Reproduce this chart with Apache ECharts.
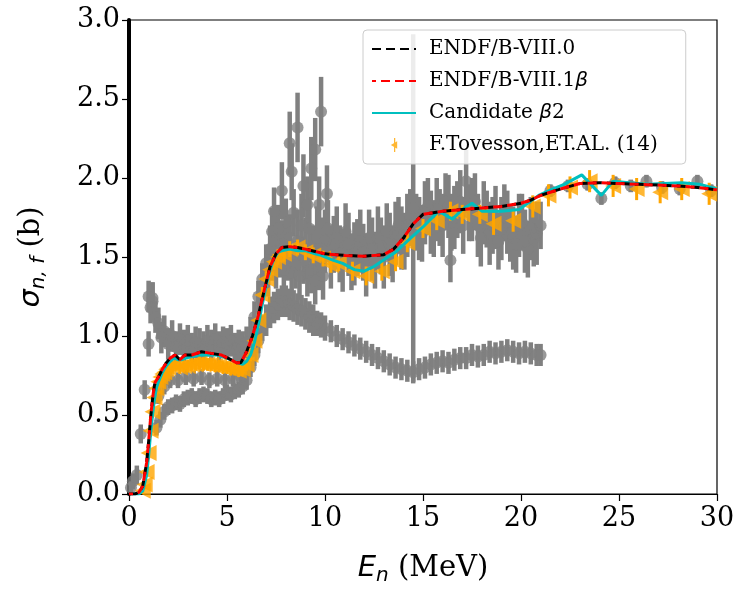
<!DOCTYPE html>
<html>
<head>
<meta charset="utf-8">
<script src="https://cdn.jsdelivr.net/npm/echarts@6/dist/echarts.min.js"></script>
<style>
  html, body { margin: 0; padding: 0; background: #fff; }
  #chart { width: 746px; height: 591px; }
</style>
</head>
<body>
<div id="chart"></div>
<script>
// evaluated curves (E in MeV, sigma in b)
const evalE = [0.0, 0.3, 0.5, 0.7, 0.9, 1.0, 1.1, 1.2, 1.3, 1.4, 1.5, 1.7, 1.9, 2.1, 2.35, 2.6, 2.85, 3.2, 3.7, 4.2, 4.7, 5.2, 5.5, 5.7, 6.0, 6.3, 6.6, 6.9, 7.2, 7.5, 7.8, 8.2, 8.6, 9.0, 9.5, 10.0, 11.0, 12.0, 13.0, 13.5, 14.0, 14.5, 15.0, 16.0, 17.0, 18.0, 19.0, 20.0, 20.5, 21.0, 22.0, 23.0, 24.0, 25.0, 26.0, 27.0, 28.0, 29.0, 30.0];
const endf80 = [0.0, 0.0, 0.01, 0.05, 0.2, 0.33, 0.48, 0.6, 0.69, 0.72, 0.74, 0.79, 0.83, 0.86, 0.88, 0.85, 0.88, 0.88, 0.9, 0.89, 0.88, 0.85, 0.83, 0.83, 0.9, 1.0, 1.13, 1.29, 1.44, 1.52, 1.56, 1.565, 1.56, 1.55, 1.535, 1.52, 1.51, 1.505, 1.515, 1.55, 1.62, 1.71, 1.77, 1.79, 1.8, 1.81, 1.82, 1.84, 1.86, 1.89, 1.93, 1.965, 1.97, 1.965, 1.96, 1.955, 1.95, 1.94, 1.925];
const endf81 = [0.0, 0.0, 0.01, 0.05, 0.2, 0.33, 0.48, 0.6, 0.7, 0.72, 0.74, 0.79, 0.83, 0.86, 0.88, 0.85, 0.88, 0.88, 0.9, 0.89, 0.88, 0.85, 0.83, 0.83, 0.9, 1.0, 1.13, 1.29, 1.44, 1.52, 1.56, 1.565, 1.56, 1.55, 1.535, 1.52, 1.51, 1.505, 1.515, 1.55, 1.62, 1.71, 1.77, 1.79, 1.8, 1.81, 1.82, 1.84, 1.86, 1.89, 1.93, 1.965, 1.97, 1.965, 1.96, 1.955, 1.95, 1.94, 1.925];

const candE = [0.0, 0.5, 0.7, 0.9, 1.0, 1.1, 1.2, 1.3, 1.4, 1.5, 1.7, 1.9, 2.1, 2.3, 2.5, 2.7, 2.9, 3.2, 3.6, 4.0, 4.5, 5.0, 5.4, 5.8, 6.0, 6.2, 6.4, 6.6, 6.8, 7.0, 7.2, 7.4, 7.6, 7.8, 8.2, 8.6, 9.0, 9.5, 9.8, 10.4, 10.9, 11.5, 12.0, 12.5, 13.1, 13.6, 14.2, 15.0, 15.8, 16.5, 17.0, 17.5, 18.0, 19.0, 19.9, 20.9, 21.6, 22.2, 23.1, 24.1, 24.7, 25.5, 26.5, 27.3, 28.2, 29.1, 30.0];
const candS = [0.0, 0.0, 0.02, 0.12, 0.24, 0.38, 0.5, 0.6, 0.67, 0.71, 0.77, 0.81, 0.84, 0.86, 0.85, 0.85, 0.86, 0.87, 0.88, 0.88, 0.88, 0.86, 0.84, 0.82, 0.84, 0.88, 0.96, 1.07, 1.2, 1.32, 1.42, 1.49, 1.53, 1.54, 1.55, 1.54, 1.54, 1.52, 1.51, 1.48, 1.46, 1.42, 1.41, 1.44, 1.49, 1.53, 1.6, 1.69, 1.79, 1.74, 1.8, 1.84, 1.79, 1.79, 1.8, 1.89, 1.93, 1.96, 2.02, 1.89, 1.98, 1.97, 1.96, 1.965, 1.97, 1.96, 1.93];

// F.Tovesson et al. [E, sigma, err]
const tovesson = [
  [0.7, 0.02, 0.03], [0.8, 0.06, 0.03], [0.9, 0.14, 0.03], [1.0, 0.26, 0.04], [1.1, 0.4, 0.04], [1.2, 0.52, 0.04],
  [1.3, 0.61, 0.04], [1.4, 0.67, 0.04], [1.5, 0.71, 0.04], [1.6, 0.74, 0.04], [1.7, 0.76, 0.04], [1.8, 0.77, 0.04],
  [1.9, 0.79, 0.04], [2.0, 0.8, 0.04], [2.2, 0.81, 0.04], [2.4, 0.82, 0.04], [2.6, 0.8, 0.04], [2.8, 0.81, 0.04],
  [3.0, 0.81, 0.04], [3.2, 0.82, 0.04], [3.4, 0.82, 0.04], [3.6, 0.83, 0.04], [3.8, 0.82, 0.04], [4.0, 0.82, 0.04],
  [4.2, 0.82, 0.04], [4.4, 0.81, 0.04], [4.6, 0.81, 0.04], [4.8, 0.8, 0.04], [5.0, 0.8, 0.04], [5.2, 0.79, 0.04],
  [5.4, 0.79, 0.04], [5.6, 0.78, 0.04], [5.8, 0.79, 0.04], [6.0, 0.82, 0.04], [6.2, 0.88, 0.04], [6.4, 0.97, 0.05],
  [6.6, 1.1, 0.05], [6.8, 1.26, 0.05], [7.0, 1.36, 0.05], [7.2, 1.42, 0.05], [7.4, 1.47, 0.05], [7.6, 1.5, 0.05],
  [7.9, 1.52, 0.05], [8.2, 1.55, 0.05], [8.6, 1.56, 0.05], [9.0, 1.53, 0.05], [9.4, 1.51, 0.05], [9.9, 1.49, 0.05],
  [10.3, 1.45, 0.05], [10.7, 1.46, 0.05], [11.4, 1.41, 0.06], [12.1, 1.38, 0.06], [12.9, 1.41, 0.06], [13.6, 1.47, 0.06],
  [14.2, 1.59, 0.06], [15.0, 1.68, 0.06], [15.7, 1.73, 0.06], [16.4, 1.79, 0.06], [17.0, 1.77, 0.06], [17.9, 1.77, 0.06],
  [18.6, 1.71, 0.07], [19.6, 1.73, 0.07], [20.6, 1.82, 0.07], [21.4, 1.89, 0.07], [22.5, 1.94, 0.07], [23.5, 1.98, 0.07],
  [24.7, 1.95, 0.07], [25.9, 1.93, 0.07], [27.1, 1.91, 0.07], [28.2, 1.93, 0.07], [29.6, 1.9, 0.07]
];

// other measurements (grey) [E, sigma, err]
const greyUpper = [
  [0.1, 0.04, 0.04], [0.2, 0.08, 0.05], [0.4, 0.12, 0.06], [0.6, 0.38, 0.06], [0.8, 0.66, 0.06], [1.0, 0.95, 0.08],
  [1.1, 1.18, 0.1], [1.2, 1.24, 0.1], [1.35, 1.12, 0.1], [1.5, 1.08, 0.1], [1.65, 0.99, 0.1], [1.8, 1.03, 0.1],
  [2.0, 0.95, 0.1], [2.2, 1.0, 0.1], [2.4, 0.93, 0.1], [2.6, 0.98, 0.1], [2.8, 0.94, 0.1], [3.0, 0.97, 0.1],
  [3.2, 0.92, 0.1], [3.4, 0.96, 0.1], [3.6, 0.95, 0.1], [3.8, 0.93, 0.1], [4.0, 0.97, 0.1], [4.2, 0.94, 0.1],
  [4.4, 0.98, 0.1], [4.6, 0.93, 0.1], [4.8, 0.96, 0.1], [5.0, 0.95, 0.1], [5.2, 0.97, 0.1], [5.4, 0.92, 0.1],
  [5.6, 0.94, 0.1], [5.8, 0.93, 0.1], [6.0, 0.96, 0.1], [6.2, 1.02, 0.1], [6.4, 1.12, 0.1], [6.6, 1.25, 0.1],
  [6.8, 1.36, 0.1], [7.0, 1.46, 0.12], [7.2, 1.55, 0.15], [7.4, 1.6, 0.15], [7.6, 1.68, 0.15], [7.8, 1.58, 0.15],
  [8.0, 1.72, 0.15], [8.2, 1.62, 0.15], [8.4, 1.78, 0.15], [8.6, 1.6, 0.2], [8.8, 1.7, 0.2], [9.0, 1.55, 0.2],
  [9.2, 1.68, 0.2], [9.4, 1.5, 0.2], [9.6, 1.62, 0.2], [9.8, 1.55, 0.2], [10.0, 1.6, 0.2], [10.3, 1.5, 0.2],
  [10.6, 1.62, 0.2], [10.9, 1.48, 0.2], [11.2, 1.58, 0.2], [11.5, 1.52, 0.2], [11.8, 1.6, 0.2], [12.1, 1.45, 0.2],
  [12.4, 1.55, 0.2], [12.7, 1.62, 0.2], [13.0, 1.5, 0.2], [13.3, 1.58, 0.2], [13.6, 1.65, 0.2], [13.9, 1.62, 0.2],
  [14.2, 1.7, 0.2], [14.8, 1.68, 0.2], [15.1, 1.78, 0.2], [15.4, 1.72, 0.2], [15.7, 1.8, 0.2], [16.0, 1.7, 0.2],
  [16.3, 1.82, 0.2], [16.6, 1.75, 0.2], [16.9, 1.85, 0.2], [17.5, 1.8, 0.2], [17.8, 1.7, 0.2], [18.1, 1.78, 0.2],
  [18.4, 1.65, 0.2], [18.7, 1.75, 0.2], [19.0, 1.68, 0.2], [19.3, 1.72, 0.2], [19.6, 1.62, 0.2], [19.9, 1.7, 0.2],
  [20.2, 1.6, 0.2], [20.5, 1.68, 0.2], [20.8, 1.65, 0.2], [21.0, 1.7, 0.15]
];

const greyDense = [
  [7.1, 1.4, 0.15], [7.3, 1.5, 0.15], [7.5, 1.45, 0.15], [7.7, 1.52, 0.15], [7.9, 1.42, 0.15], [8.1, 1.5, 0.15],
  [8.3, 1.4, 0.15], [8.5, 1.45, 0.15], [8.7, 1.38, 0.15], [8.9, 1.48, 0.15], [9.1, 1.4, 0.15], [9.3, 1.42, 0.15],
  [9.5, 1.35, 0.15], [9.7, 1.44, 0.15], [9.9, 1.38, 0.15], [10.15, 1.68, 0.18], [10.45, 1.58, 0.18], [10.75, 1.52, 0.18],
  [11.05, 1.66, 0.18], [11.35, 1.47, 0.18], [11.65, 1.56, 0.18], [11.95, 1.53, 0.18], [12.25, 1.62, 0.18], [12.55, 1.48, 0.18],
  [12.85, 1.57, 0.18], [13.15, 1.66, 0.18], [13.45, 1.52, 0.18], [13.75, 1.7, 0.18], [14.05, 1.6, 0.18], [14.35, 1.75, 0.18],
  [14.65, 1.72, 0.18], [14.95, 1.65, 0.18], [15.25, 1.82, 0.18], [15.55, 1.68, 0.18], [15.85, 1.75, 0.18], [16.15, 1.85, 0.18],
  [16.45, 1.72, 0.18], [16.75, 1.8, 0.18], [17.05, 1.7, 0.18], [17.35, 1.78, 0.18], [17.65, 1.85, 0.18], [17.95, 1.62, 0.18],
  [18.25, 1.74, 0.18], [18.55, 1.7, 0.18], [18.85, 1.6, 0.18], [19.15, 1.78, 0.18], [19.45, 1.65, 0.18], [19.75, 1.58, 0.18],
  [20.05, 1.72, 0.18], [20.35, 1.55, 0.18], [20.65, 1.62, 0.18]
];

const greyPeak = [
  [1.0, 1.25, 0.1], [1.2, 1.22, 0.12], [7.3, 1.66, 0.15], [7.4, 1.79, 0.15], [7.8, 1.92, 0.18], [8.2, 2.22, 0.2],
  [8.3, 2.04, 0.18], [8.6, 2.32, 0.22], [8.9, 1.95, 0.2], [9.1, 1.83, 0.18], [9.3, 2.06, 0.2], [9.5, 2.18, 0.2],
  [9.7, 1.83, 0.18], [9.8, 2.42, 0.22], [10.1, 1.9, 0.18], [14.5, 1.81, 1.1], [16.4, 1.48, 0.14], [17.2, 1.98, 0.2],
  [20.7, 1.65, 0.15]
];

const greyMid = [
  [1.5, 0.62, 0.05], [1.8, 0.68, 0.05], [2.1, 0.72, 0.05], [2.5, 0.72, 0.05], [2.9, 0.74, 0.05], [3.3, 0.73, 0.05],
  [3.7, 0.74, 0.05], [4.1, 0.72, 0.05], [4.5, 0.73, 0.05], [4.9, 0.72, 0.05], [5.3, 0.73, 0.05], [5.7, 0.74, 0.05],
  [6.1, 0.8, 0.05], [6.5, 1.0, 0.06]
];

const greyLow = [
  [1.4, 0.42, 0.05], [1.6, 0.47, 0.05], [1.8, 0.52, 0.05], [2.0, 0.55, 0.05], [2.2, 0.56, 0.05], [2.4, 0.58, 0.05],
  [2.6, 0.57, 0.05], [2.8, 0.6, 0.05], [3.0, 0.61, 0.05], [3.2, 0.62, 0.05], [3.4, 0.6, 0.05], [3.6, 0.62, 0.05],
  [3.8, 0.63, 0.05], [4.0, 0.62, 0.05], [4.2, 0.6, 0.05], [4.4, 0.61, 0.05], [4.6, 0.6, 0.05], [4.8, 0.62, 0.05],
  [5.0, 0.64, 0.05], [5.2, 0.63, 0.05], [5.4, 0.65, 0.05], [5.6, 0.66, 0.05], [5.8, 0.68, 0.05], [6.0, 0.72, 0.06],
  [6.2, 0.8, 0.06], [6.4, 0.88, 0.07], [6.6, 0.97, 0.08], [6.8, 1.05, 0.08], [7.0, 1.1, 0.1], [7.2, 1.15, 0.1],
  [7.4, 1.18, 0.1], [7.6, 1.2, 0.1], [7.8, 1.22, 0.1], [8.0, 1.22, 0.1], [8.2, 1.2, 0.1], [8.4, 1.19, 0.1],
  [8.6, 1.17, 0.1], [8.8, 1.16, 0.1], [9.0, 1.14, 0.1], [9.2, 1.12, 0.1], [9.4, 1.1, 0.1], [9.6, 1.08, 0.08],
  [9.8, 1.07, 0.08], [10.0, 1.05, 0.08], [10.3, 1.03, 0.07], [10.6, 1.0, 0.07], [10.9, 0.98, 0.07], [11.2, 0.96, 0.07],
  [11.5, 0.94, 0.07], [11.8, 0.92, 0.07], [12.1, 0.9, 0.07], [12.4, 0.88, 0.07], [12.7, 0.86, 0.07], [13.0, 0.84, 0.07],
  [13.3, 0.82, 0.07], [13.6, 0.8, 0.07], [13.9, 0.79, 0.07], [14.2, 0.78, 0.07], [14.5, 0.77, 0.07], [14.8, 0.79, 0.07],
  [15.1, 0.8, 0.07], [15.4, 0.82, 0.07], [15.7, 0.83, 0.07], [16.0, 0.84, 0.07], [16.3, 0.83, 0.07], [16.6, 0.85, 0.07],
  [16.9, 0.86, 0.07], [17.2, 0.86, 0.07], [17.5, 0.88, 0.07], [17.8, 0.87, 0.07], [18.1, 0.88, 0.07], [18.4, 0.9, 0.07],
  [18.7, 0.89, 0.07], [19.0, 0.9, 0.07], [19.3, 0.91, 0.07], [19.6, 0.9, 0.07], [19.9, 0.89, 0.07], [20.2, 0.9, 0.07],
  [20.5, 0.89, 0.07], [20.8, 0.88, 0.07], [21.0, 0.88, 0.07]
];

const greyHigh = [
  [21.5, 1.92, 0.04], [22.4, 1.95, 0.04], [23.4, 1.96, 0.04], [24.1, 1.87, 0.04], [24.8, 1.97, 0.04], [25.6, 1.95, 0.04],
  [26.4, 1.98, 0.04], [27.2, 1.94, 0.04], [28.1, 1.93, 0.04], [29.0, 1.98, 0.04], [29.7, 1.92, 0.04]
];

const xTicks = [0, 5, 10, 15, 20, 25, 30];
const yTicks = [0.0, 0.5, 1.0, 1.5, 2.0, 2.5, 3.0];

const SERIF = "DejaVu Serif";
const MATH = "DejaVu Sans";
const GREY = "#808080";
const ORANGE = "#ffa500";

const zip = (xs, ys) => xs.map((x, i) => [x, ys[i]]);

function errorBars(rows, color, width, z) {
    return {
        type: "custom",
        silent: true,
        clip: true,
        z: z,
        data: rows,
        encode: { x: 0, y: 1 },
        renderItem(params, api) {
            const x = api.value(0);
            const y = api.value(1);
            const e = api.value(2);
            const top = api.coord([x, y + e]);
            const bot = api.coord([x, y - e]);
            return {
                type: "line",
                shape: { x1: top[0], y1: top[1], x2: bot[0], y2: bot[1] },
                style: { stroke: color, lineWidth: width },
            };
        },
    };
}

function greyDots(rows, size, z) {
    return {
        type: "scatter",
        silent: true,
        clip: true,
        z: z,
        symbol: "circle",
        symbolSize: size,
        itemStyle: { color: GREY },
        data: rows.map((r) => [r[0], r[1]]),
    };
}

const chart = echarts.init(document.getElementById("chart"), null, { renderer: "canvas" });

const series = [];
[greyLow, greyMid, greyUpper, greyDense, greyPeak, greyHigh].forEach((rows) => {
    series.push(errorBars(rows, GREY, 4.5, 1));
    series.push(greyDots(rows, 12, 1));
});
series.push(errorBars(tovesson, ORANGE, 3, 2));
series.push({
    name: "F.Tovesson,ET.AL. (14)",
    type: "scatter",
    clip: true,
    z: 2,
    symbol: "triangle",
    symbolRotate: 90,
    symbolSize: 16,
    itemStyle: { color: ORANGE },
    data: tovesson.map((r) => [r[0], r[1]]),
});
series.push({
    name: "Candidate β2",
    type: "line",
    z: 3,
    symbol: "none",
    lineStyle: { color: "#00bfbf", width: 3 },
    itemStyle: { color: "#00bfbf" },
    data: zip(candE, candS),
});
series.push({
    name: "ENDF/B-VIII.0",
    type: "line",
    z: 4,
    symbol: "none",
    lineStyle: { color: "#000", width: 3, type: [9, 5] },
    itemStyle: { color: "#000" },
    data: zip(evalE, endf80),
});
series.push({
    name: "ENDF/B-VIII.1β",
    type: "line",
    z: 5,
    symbol: "none",
    lineStyle: { color: "#ff0000", width: 3, type: [9, 5], dashOffset: 5 },
    itemStyle: { color: "#ff0000" },
    data: zip(evalE, endf81),
});

const hideDot = { opacity: 0 };

chart.setOption({
    animation: false,
    backgroundColor: "#fff",
    grid: { left: 129, right: 29, top: 20, bottom: 94, show: true, borderColor: "#000", borderWidth: 1.2 },
    legend: {
        left: 363,
        top: 30,
        orient: "vertical",
        padding: [8, 28, 8, 8],
        itemGap: 10,
        itemWidth: 44,
        itemHeight: 14,
        backgroundColor: "rgba(255,255,255,0.85)",
        borderColor: "#cccccc",
        borderWidth: 1,
        borderRadius: 4,
        data: [
            { name: "ENDF/B-VIII.0", itemStyle: hideDot },
            { name: "ENDF/B-VIII.1β", itemStyle: hideDot },
            { name: "Candidate β2", itemStyle: hideDot },
            { name: "F.Tovesson,ET.AL. (14)", icon: "path://M9,0 L11,0 L11,22 L9,22 Z M4,11 L14,5 L14,17 Z", itemStyle: { color: ORANGE } },
        ],
        formatter(name) {
            return name.replace("β", "{g|β}");
        },
        textStyle: {
            fontFamily: SERIF,
            fontSize: 20,
            color: "#000",
            lineHeight: 22,
            padding: [0, 0, 0, 8],
            rich: { g: { fontFamily: MATH, fontStyle: "italic", fontSize: 20, color: "#000" } },
        },
    },
    xAxis: {
        type: "value",
        min: xTicks[0],
        max: xTicks[xTicks.length - 1],
        interval: 5,
        axisLine: { lineStyle: { color: "#000", width: 1.2 } },
        axisTick: { length: 7, lineStyle: { color: "#000", width: 1.2 } },
        axisLabel: { fontFamily: SERIF, fontSize: 27, color: "#000", margin: 11 },
        splitLine: { show: false },
        name: "{i|E}{s|n}{t| (MeV)}",
        nameLocation: "middle",
        nameGap: 56,
        nameTextStyle: {
            rich: {
                i: { fontFamily: MATH, fontStyle: "italic", fontSize: 29, color: "#000" },
                s: { fontFamily: MATH, fontStyle: "italic", fontSize: 20, color: "#000", padding: [16, 0, 0, 0] },
                t: { fontFamily: SERIF, fontSize: 29, color: "#000" },
            },
        },
    },
    yAxis: {
        type: "value",
        min: yTicks[0],
        max: yTicks[yTicks.length - 1],
        interval: 0.5,
        axisLine: { lineStyle: { color: "#000", width: 4 } },
        axisTick: { length: 7, lineStyle: { color: "#000", width: 1.2 } },
        axisLabel: { fontFamily: SERIF, fontSize: 27, color: "#000", margin: 9, formatter: (v) => v.toFixed(1) },
        splitLine: { show: false },
        name: "{i|σ}{s|n, f}{t| (b)}",
        nameLocation: "middle",
        nameRotate: 90,
        nameGap: 80,
        nameTextStyle: {
            rich: {
                i: { fontFamily: MATH, fontStyle: "italic", fontSize: 29, color: "#000" },
                s: { fontFamily: MATH, fontStyle: "italic", fontSize: 20, color: "#000", padding: [16, 0, 0, 0] },
                t: { fontFamily: SERIF, fontSize: 29, color: "#000" },
            },
        },
    },
    series: series,
});
</script>
</body>
</html>
